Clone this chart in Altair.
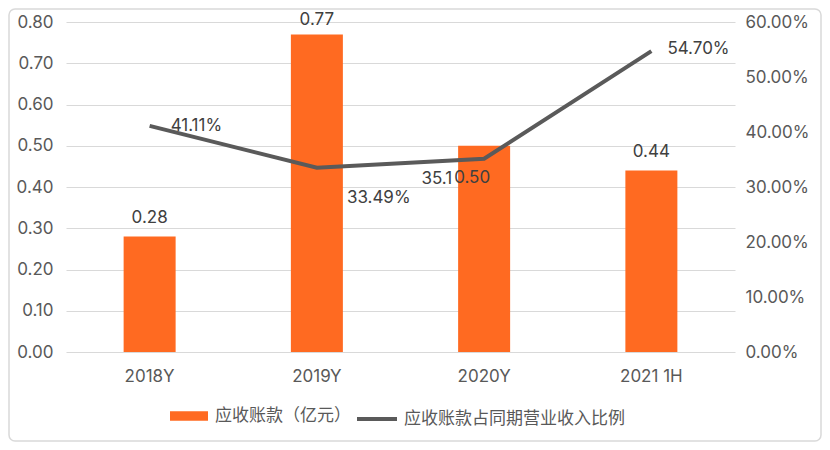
import altair as alt
import pandas as pd

categories = ["2018Y", "2019Y", "2020Y", "2021 1H"]
receivables = [0.28, 0.77, 0.50, 0.44]
ratio = [0.4111, 0.3349, 0.3515, 0.5470]
bar_labels = ["0.28", "0.77", "0.50", "0.44"]
ratio_labels = ["41.11%", "33.49%", "35.1", "54.70%"]
left_ticks = [0.0, 0.1, 0.2, 0.3, 0.4, 0.5, 0.6, 0.7, 0.8]
right_ticks = [0.0, 0.1, 0.2, 0.3, 0.4, 0.5, 0.6]
bar_name = "应收账款（亿元）"
line_name = "应收账款占同期营业收入比例"

df = pd.DataFrame({
    "category": categories,
    "receivables": receivables,
    "ratio": ratio,
    "bar_label": bar_labels,
    "ratio_label": ratio_labels,
    "bar_series": [bar_name] * 4,
    "line_series": [line_name] * 4,
})

FONT = "Inter, Noto Sans CJK SC, sans-serif"
ORANGE = "#FF6A21"
GREY = "#5a5a5a"
LABEL = "#404040"
TICK = "#595959"

x_enc = alt.X("category:N", sort=categories,
              scale=alt.Scale(paddingInner=0, paddingOuter=0),
              axis=alt.Axis(title=None, labelAngle=0, ticks=False, domain=False,
                            labelPadding=16, labelFontSize=17, labelColor=TICK,
                            grid=False))

y_left = alt.Y("receivables:Q", scale=alt.Scale(domain=[0, 0.8]),
               axis=alt.Axis(values=left_ticks, format=".2f", title=None, ticks=False,
                             domain=False, grid=True, gridColor="#d9d9d9", gridWidth=1,
                             labelPadding=13, labelFontSize=17, labelColor=TICK))

y_right = alt.Y("ratio:Q", scale=alt.Scale(domain=[0, 0.6]),
                axis=alt.Axis(values=right_ticks, format=".2%", title=None, ticks=False,
                              domain=False, grid=False, orient="right",
                              labelPadding=10, labelFontSize=17, labelColor=TICK))

base = alt.Chart(df).encode(x=x_enc)

bars = base.mark_bar(size=52).encode(
    y=y_left,
    fill=alt.Fill("bar_series:N", scale=alt.Scale(range=[ORANGE]),
                  legend=alt.Legend(title=None, orient="none", legendX=104, legendY=375,
                                    symbolType="M-1,-0.25H1V0.25H-1Z", symbolSize=1444,
                                    symbolStrokeWidth=0, labelFontSize=17, labelLimit=0,
                                    labelColor=TICK, labelOffset=7)),
)

bar_text_specs = [
    ("2018Y", 0, -19), ("2019Y", 0, -14), ("2020Y", -12, 32), ("2021 1H", 0, -19)
]
bar_texts = [
    base.transform_filter(alt.datum.category == c).mark_text(
        fontSize=17, color=LABEL, baseline="middle", align="center", dx=dx, dy=dy
    ).encode(y=y_left, text="bar_label:N")
    for c, dx, dy in bar_text_specs
]

line = base.mark_line(strokeWidth=4).encode(
    y=y_right,
    stroke=alt.Stroke("line_series:N", scale=alt.Scale(range=[GREY]),
                      legend=alt.Legend(title=None, orient="none", legendX=289, legendY=375,
                                        symbolType="stroke", symbolSize=1600,
                                        symbolStrokeWidth=4, labelFontSize=17, labelLimit=0,
                                        labelColor=TICK, labelOffset=5)),
)

line_text_specs = [
    ("2018Y", "left", 21, 0), ("2019Y", "left", 30, 30),
    ("2020Y", "right", -32, 20), ("2021 1H", "left", 16, -2)
]
line_texts = [
    base.transform_filter(alt.datum.category == c).mark_text(
        fontSize=17, color=LABEL, baseline="middle", align=a, dx=dx, dy=dy
    ).encode(y=y_right, text="ratio_label:N")
    for c, a, dx, dy in line_text_specs
]

border = alt.Chart(alt.Data(values=[{}])).mark_rect(
    fill="transparent", stroke="#d9d9d9", strokeWidth=1.5, cornerRadius=6
).encode(x=alt.value(-57), x2=alt.value(755), y=alt.value(-13), y2=alt.value(419))

left = alt.layer(bars, *bar_texts)
right = alt.layer(line, *line_texts)

chart = alt.layer(border, left, right).resolve_scale(
    y="independent", fill="independent", stroke="independent"
).properties(
    width=669, height=330,
    autosize=alt.AutoSizeParams(type="none"),
    padding={"left": 58, "top": 14, "right": 87, "bottom": 90},
    background="white",
).configure(font=FONT).configure_view(stroke=None)

chart.save("out.html", embed_options={"renderer": "svg", "actions": False})
